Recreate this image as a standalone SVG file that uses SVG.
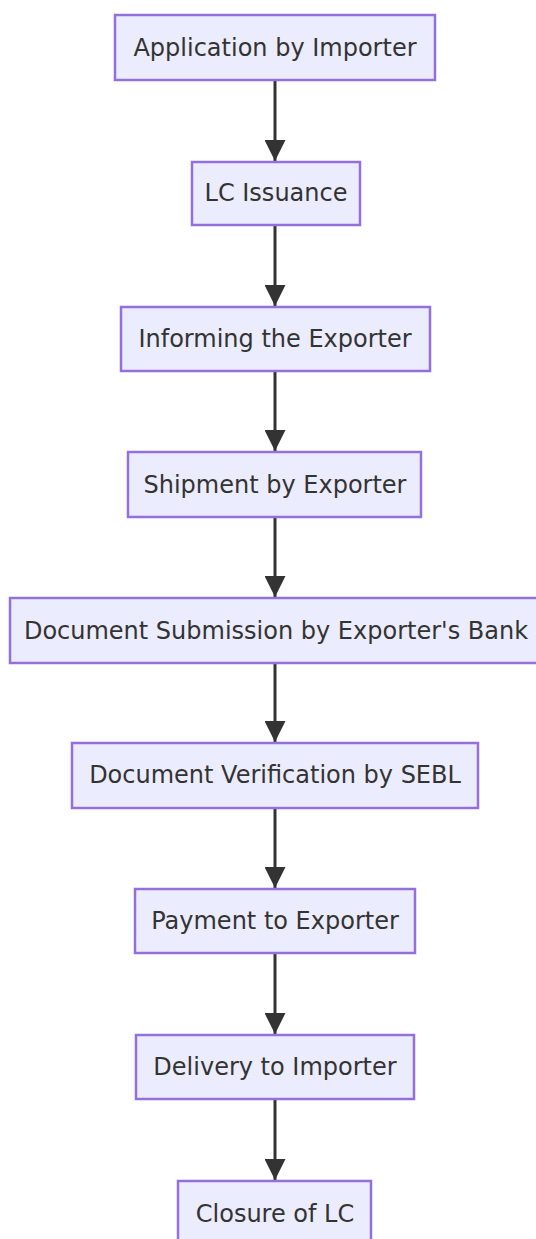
<svg xmlns="http://www.w3.org/2000/svg" width="536" height="1239" viewBox="0 0 536 1239">
<defs>
<marker id="arrow" viewBox="0 0 10 10" refX="10" refY="5" markerWidth="7" markerHeight="7" markerUnits="strokeWidth" orient="auto">
<path d="M0,0 L10,5 L0,10 z" fill="#333"/>
</marker>
<style>
.node rect{fill:#ECECFF;stroke:#9370DB;stroke-width:2.5}
.node text{font-family:"DejaVu Sans",sans-serif;font-size:24px;fill:#333;text-anchor:middle;dominant-baseline:central}
.edges line{stroke:#333;stroke-width:3;marker-end:url(#arrow)}
</style>
</defs>
<rect width="536" height="1239" fill="#fff"/>
<g class="edges">
<line x1="275" y1="80" x2="275" y2="161"/>
<line x1="275" y1="225" x2="275" y2="306"/>
<line x1="275" y1="371" x2="275" y2="451"/>
<line x1="275" y1="517" x2="275" y2="597"/>
<line x1="275" y1="663" x2="275" y2="742"/>
<line x1="275" y1="808" x2="275" y2="888"/>
<line x1="275" y1="953" x2="275" y2="1034"/>
<line x1="275" y1="1099" x2="275" y2="1180"/>
</g>
<g id="n1" class="node"><rect x="115" y="15" width="320" height="65"/><text x="275" y="48">Application by Importer</text></g>
<g id="n2" class="node"><rect x="192" y="162" width="168" height="63"/><text x="276" y="193">LC Issuance</text></g>
<g id="n3" class="node"><rect x="121" y="307" width="309" height="64"/><text x="275" y="339">Informing the Exporter</text></g>
<g id="n4" class="node"><rect x="128" y="452" width="293" height="65"/><text x="275" y="485">Shipment by Exporter</text></g>
<g id="n5" class="node"><rect x="10" y="598" width="530" height="65"/><text x="276" y="631">Document Submission by Exporter's Bank</text></g>
<g id="n6" class="node"><rect x="72" y="743" width="406" height="65"/><text x="275" y="775">Document Verification by SEBL</text></g>
<g id="n7" class="node"><rect x="135" y="889" width="280" height="64"/><text x="275" y="921">Payment to Exporter</text></g>
<g id="n8" class="node"><rect x="136" y="1035" width="278" height="64"/><text x="275" y="1067">Delivery to Importer</text></g>
<g id="n9" class="node"><rect x="178" y="1181" width="193" height="65"/><text x="275" y="1214">Closure of LC</text></g>
</svg>
